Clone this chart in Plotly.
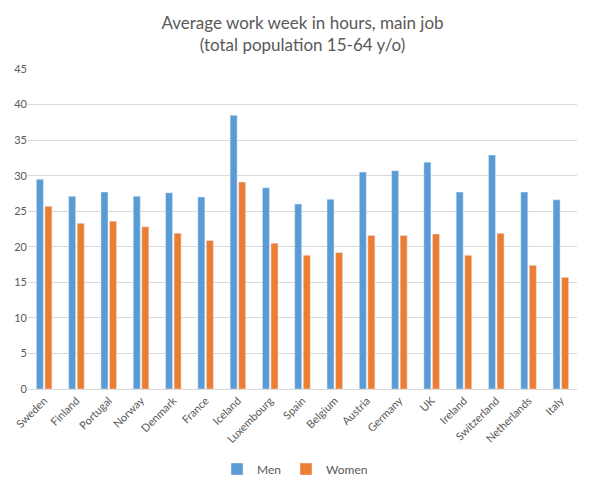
import plotly.graph_objects as go

countries = ["Sweden", "Finland", "Portugal", "Norway", "Denmark", "France", "Iceland",
             "Luxembourg", "Spain", "Belgium", "Austria", "Germany", "UK", "Ireland",
             "Switzerland", "Netherlands", "Italy"]
men = [29.5, 27.1, 27.7, 27.1, 27.6, 27.0, 38.5, 28.3, 26.0, 26.7, 30.5, 30.7, 31.9, 27.7, 32.9, 27.7, 26.6]
women = [25.7, 23.3, 23.6, 22.8, 21.9, 20.9, 29.1, 20.5, 18.8, 19.2, 21.6, 21.6, 21.8, 18.8, 21.9, 17.4, 15.7]

font_family = "Lato, Open Sans, sans-serif"
txt = "#595959"

fig = go.Figure()
fig.add_trace(go.Bar(name="Men", x=countries, y=men, marker_color="#5B9BD5"))
fig.add_trace(go.Bar(name="Women", x=countries, y=women, marker_color="#ED7D31"))

fig.update_layout(
    width=590, height=486,
    margin=dict(l=28, r=13, t=69, b=97, autoexpand=False),
    paper_bgcolor="white", plot_bgcolor="white",
    barmode="group", bargap=0.47, bargroupgap=0.18,
    title=dict(text="Average work week in hours, main job<br>(total population 15-64 y/o)",
               x=0.5, xanchor="center", xref="paper", yref="container",
               y=1 - 29 / 486, yanchor="middle",
               font=dict(family=font_family, size=17, color=txt)),
    font=dict(family=font_family, size=11, color=txt),
    legend=dict(orientation="h", x=0.5, xanchor="center", xref="container",
                yref="container", y=1 - 469 / 486, yanchor="middle",
                font=dict(size=12, color=txt), itemwidth=30, tracegroupgap=0),
    showlegend=True,
)
fig.update_yaxes(range=[0, 45], dtick=5, showgrid=True, gridcolor="#D9D9D9", gridwidth=1,
                 zeroline=False, showline=False, ticks="", automargin=False,
                 tickfont=dict(size=11, color=txt))
fig.update_xaxes(tickangle=-45, showline=True, linecolor="#D9D9D9", linewidth=1,
                 ticks="", automargin=False, tickfont=dict(size=11, color=txt))

fig.write_html("out.html")
